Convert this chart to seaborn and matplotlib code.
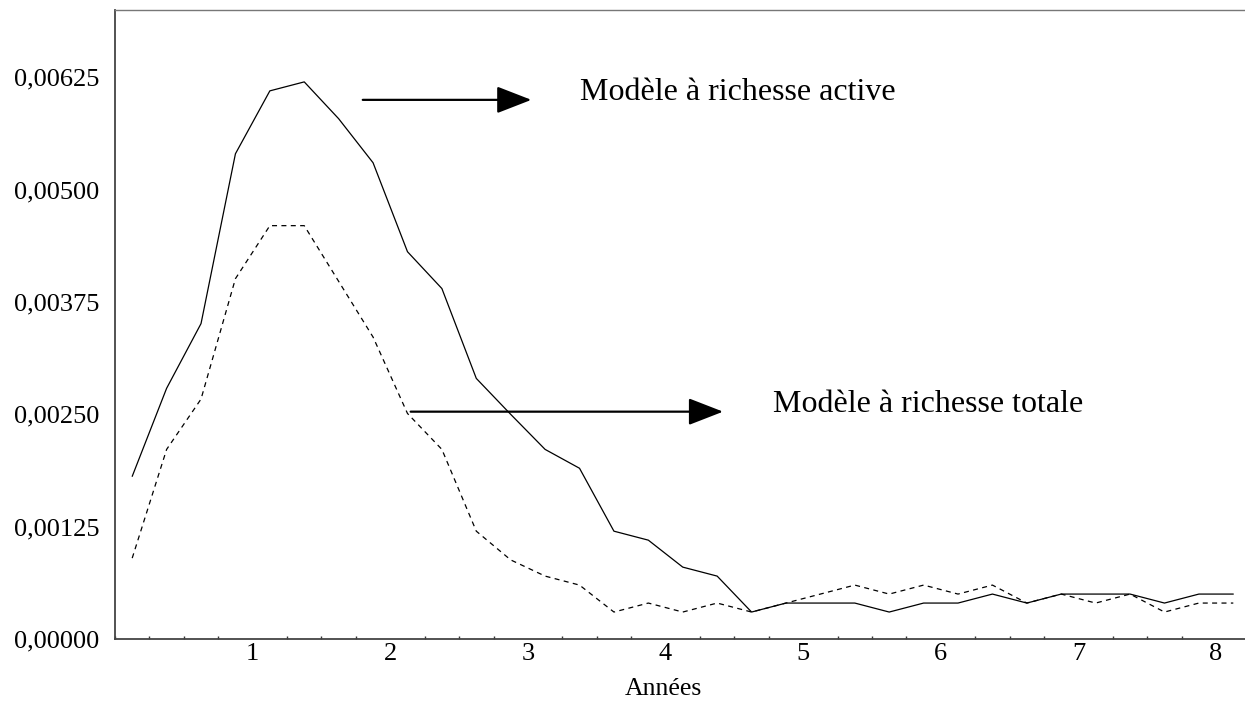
import numpy as np
import pandas as pd
import matplotlib
matplotlib.use("Agg")
import matplotlib.pyplot as plt
from matplotlib.ticker import FixedLocator, FixedFormatter, MultipleLocator
import seaborn as sns

# ---- data ----
years = [0.125, 0.375, 0.625, 0.875, 1.125, 1.375, 1.625, 1.875, 2.125, 2.375,
         2.625, 2.875, 3.125, 3.375, 3.625, 3.875, 4.125, 4.375, 4.625, 4.875,
         5.125, 5.375, 5.625, 5.875, 6.125, 6.375, 6.625, 6.875, 7.125, 7.375,
         7.625, 7.875, 8.125]
active = [0.00181, 0.00279, 0.00351, 0.00540, 0.00610, 0.00620, 0.00579, 0.00530,
          0.00431, 0.00390, 0.00290, 0.00250, 0.00211, 0.00190, 0.00120, 0.00110,
          0.00080, 0.00070, 0.00030, 0.00040, 0.00040, 0.00040, 0.00030, 0.00040,
          0.00040, 0.00050, 0.00040, 0.00050, 0.00050, 0.00050, 0.00040, 0.00050,
          0.00050]
totale = [0.00090, 0.00211, 0.00267, 0.00401, 0.00460, 0.00460, 0.00398, 0.00336,
          0.00251, 0.00211, 0.00120, 0.00088, 0.00070, 0.00060, 0.00030, 0.00040,
          0.00030, 0.00040, 0.00030, 0.00040, 0.00050, 0.00060, 0.00050, 0.00060,
          0.00050, 0.00060, 0.00040, 0.00050, 0.00040, 0.00050, 0.00030, 0.00040,
          0.00040]
series_names = ["Modèle à richesse active", "Modèle à richesse totale"]
ytick_values = [0.0, 0.00125, 0.0025, 0.00375, 0.005, 0.00625]
ytick_labels = ["0,00000", "0,00125", "0,00250", "0,00375", "0,00500", "0,00625"]
xtick_values = [1, 2, 3, 4, 5, 6, 7, 8]
xtick_labels = ["1", "2", "3", "4", "5", "6", "7", "8"]
x_label = "Années"

df = pd.DataFrame({
    "x": years * 2,
    "y": active + totale,
    "serie": [series_names[0]] * len(years) + [series_names[1]] * len(years),
})

sns.set_style("white")
plt.rcParams["font.family"] = ["Liberation Serif", "DejaVu Serif"]
plt.rcParams["text.color"] = "black"
plt.rcParams["axes.labelcolor"] = "black"

fig = plt.figure(figsize=(12.45, 7.02), dpi=100)
ax = fig.add_axes([115 / 1245, 63 / 702, 1 - 115 / 1245, (639 - 10) / 702])

sns.lineplot(data=df, x="x", y="y", style="serie",
             dashes={series_names[0]: "", series_names[1]: (4, 3.5)},
             color="black", linewidth=0.9, legend=False, ax=ax)

ax.set_xlim(0, 8.21)
ax.set_ylim(0, 0.007)

ax.yaxis.set_major_locator(FixedLocator(ytick_values))
ax.yaxis.set_major_formatter(FixedFormatter(ytick_labels))
ax.xaxis.set_major_locator(FixedLocator(xtick_values))
ax.xaxis.set_major_formatter(FixedFormatter(xtick_labels))
ax.xaxis.set_minor_locator(MultipleLocator(0.25))

ax.tick_params(axis="both", which="major", direction="in", length=3.8, width=1.0,
               color="#333333", labelsize=19, labelcolor="black")
ax.tick_params(axis="y", which="major", pad=11.5)
ax.tick_params(axis="x", which="major", pad=3)
ax.tick_params(axis="x", which="minor", direction="in", length=2.3, width=1.0,
               color="#333333", bottom=True)

for side in ["left", "bottom"]:
    ax.spines[side].set_color("#444444")
    ax.spines[side].set_linewidth(1.3)
ax.spines["top"].set_color("#777777")
ax.spines["top"].set_linewidth(1.0)
ax.spines["right"].set_visible(False)

ax.set_xlabel(x_label, fontsize=18.5, color="black")
ax.set_ylabel("")
ax.xaxis.set_label_coords(0.485, -0.062)

arrow_kw = dict(arrowstyle="-|>,head_length=1.08,head_width=0.42", mutation_scale=20,
                lw=1.6, color="black", shrinkA=0, shrinkB=0)
ax.annotate("", xy=(3.025, 0.0060), xytext=(1.80, 0.0060), arrowprops=arrow_kw)
ax.annotate("", xy=(4.418, 0.00253), xytext=(2.148, 0.00253), arrowprops=arrow_kw)
ax.text(3.376, 0.0060, series_names[0], fontsize=23, va="baseline", ha="left",
        color="black")
ax.text(4.779, 0.00253, series_names[1], fontsize=23, va="baseline", ha="left",
        color="black")

fig.savefig("out.png", dpi=100)
